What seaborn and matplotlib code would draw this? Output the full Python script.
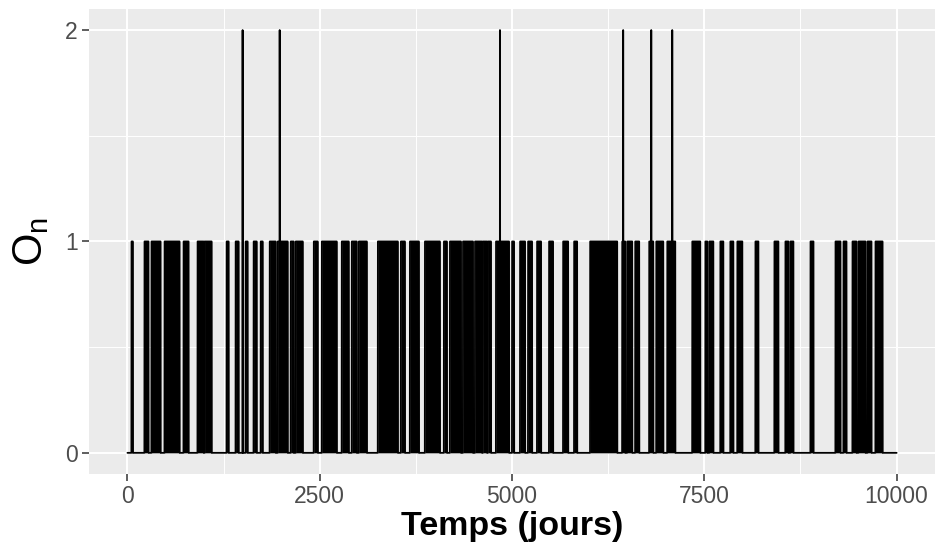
import numpy as np
import pandas as pd
import seaborn as sns
import matplotlib.pyplot as plt

# Periods (start day, end day) where O_n = 1
active_start = [52, 221, 312, 482, 729, 911, 1003, 1289, 1406, 1536, 1640, 1732,
                1849, 1953, 2122, 2187, 2422, 2526, 2786, 2916, 3008, 3255, 3554,
                3672, 3867, 4036, 4114, 4192, 4362, 4518, 4622, 4687, 4791, 5000,
                5104, 5208, 5325, 5481, 5664, 5807, 6015, 6432, 6497, 6601, 6783,
                6875, 7018, 7343, 7513, 7565, 7708, 7838, 7929, 8164, 8411, 8554,
                8619, 8880, 9205, 9309, 9426, 9504, 9621, 9725]
active_end = [70, 273, 430, 677, 794, 990, 1094, 1315, 1445, 1562, 1680, 1758,
              1927, 2083, 2161, 2279, 2474, 2721, 2877, 2981, 3112, 3515, 3607,
              3789, 4062, 4062, 4153, 4336, 4492, 4609, 4674, 4726, 4961, 5026,
              5169, 5260, 5377, 5533, 5729, 5846, 6367, 6471, 6562, 6653, 6836,
              6966, 7122, 7447, 7539, 7617, 7747, 7877, 7994, 8203, 8463, 8593,
              8658, 8919, 9270, 9348, 9478, 9595, 9673, 9817]
# Days where O_n = 2
double_days = [1497, 1979, 4843, 6445, 6810, 7083]

n_days = 10000
x_ticks = [0, 2500, 5000, 7500, 10000]
y_ticks = [0, 1, 2]

days = np.arange(0, n_days + 1)
obs = np.zeros(len(days))
for a, b in zip(active_start, active_end):
    obs[(days >= a) & (days <= b)] = 1
for d in double_days:
    obs[days == d] = 2
df = pd.DataFrame({'jour': days, 'O': obs})

sns.set_theme(style='darkgrid', rc={
    'axes.facecolor': '#EBEBEB',
    'grid.color': 'white',
    'axes.edgecolor': '#EBEBEB',
})
plt.rcParams['font.family'] = ['Liberation Sans', 'DejaVu Sans']

fig = plt.figure(figsize=(9.36, 5.42), dpi=100)
ax = fig.add_axes([0.0951, 0.1255, 0.9039, 0.858])

ax.fill_between(df['jour'], df['O'].clip(upper=1), step='mid', color='black', lw=0)
sns.lineplot(data=df, x='jour', y='O', color='black', linewidth=1.3,
             estimator=None, ax=ax)

ax.set_xlim(-500, 10500)
ax.set_ylim(-0.1, 2.1)
ax.set_xticks(x_ticks)
ax.set_xticklabels([str(t) for t in x_ticks])
ax.set_yticks(y_ticks)
ax.set_yticklabels([str(t) for t in y_ticks])
ax.set_xticks([1250, 3750, 6250, 8750], minor=True)
ax.set_yticks([0.5, 1.5], minor=True)
ax.grid(which='major', color='white', linewidth=1.4)
ax.grid(which='minor', color='white', linewidth=0.7)
ax.tick_params(axis='both', which='major', length=5, width=1.1, color='#333333',
               labelsize=16.5, labelcolor='#4D4D4D', pad=3, bottom=True, left=True)
ax.tick_params(axis='both', which='minor', length=0)
for s in ax.spines.values():
    s.set_visible(False)

ax.set_xlabel('Temps (jours)', fontsize=24.5, fontweight='bold', color='black', labelpad=2)
ax.set_ylabel(r'$\mathregular{O_n}$', fontsize=30, color='black', labelpad=10)

fig.savefig('out.png', dpi=100)
